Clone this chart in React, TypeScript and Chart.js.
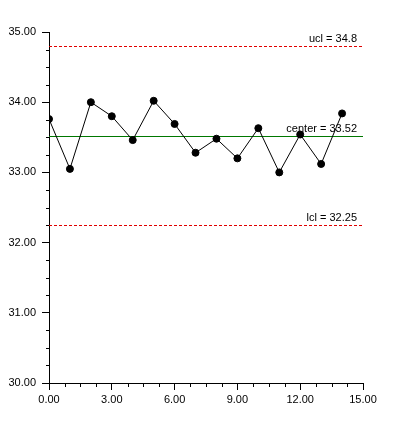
import React, { useEffect, useRef } from "react";
import { Chart, registerables } from "chart.js";

Chart.register(...registerables);

const sampleIndex = [0, 1, 2, 3, 4, 5, 6, 7, 8, 9, 10, 11, 12, 13, 14];
const sampleValues = [33.76, 33.05, 34.0, 33.8, 33.46, 34.02, 33.69, 33.28, 33.48, 33.2, 33.63, 33.0, 33.54, 33.12, 33.84];
const ucl = 34.8;
const center = 33.52;
const lcl = 32.25;
const limitLabels = ["ucl = 34.8", "center = 33.52", "lcl = 32.25"];
const xMin = 0, xMax = 15, xStep = 3, xMinorStep = 0.75;
const yMin = 30, yMax = 35, yStep = 1, yMinorStep = 0.25;

const FONT = "'Liberation Sans', Arial, sans-serif";

const spcPlugin = {
  id: "spc",
  beforeDatasetsDraw(chart: any) {
    const { ctx, chartArea, scales } = chart;
    const y = scales.y;
    ctx.save();
    ctx.lineWidth = 1;
    const drawLine = (v: number, color: string, dash: number[]) => {
      const py = Math.round(y.getPixelForValue(v)) + 0.5;
      ctx.strokeStyle = color;
      ctx.setLineDash(dash);
      ctx.beginPath();
      ctx.moveTo(chartArea.left, py);
      ctx.lineTo(chartArea.right, py);
      ctx.stroke();
    };
    drawLine(ucl, "#e00000", [3, 2]);
    drawLine(lcl, "#e00000", [3, 2]);
    drawLine(center, "#007800", []);
    ctx.restore();
  },
  afterDatasetsDraw(chart: any) {
    const { ctx, chartArea, scales } = chart;
    const y = scales.y;
    ctx.save();
    ctx.fillStyle = "#000";
    ctx.font = `11px ${FONT}`;
    ctx.textAlign = "right";
    ctx.textBaseline = "alphabetic";
    const vals = [ucl, center, lcl];
    vals.forEach((v, i) => {
      const py = Math.round(y.getPixelForValue(v));
      ctx.fillText(limitLabels[i], chartArea.right - 6, py - 4);
    });
    ctx.restore();
  },
  afterDraw(chart: any) {
    const { ctx, chartArea, scales } = chart;
    const x = scales.x;
    const y = scales.y;
    ctx.save();
    ctx.strokeStyle = "#000";
    ctx.lineWidth = 1;
    ctx.beginPath();
    for (let v = yMin; v <= yMax + 1e-9; v += yMinorStep) {
      if (Math.abs(v / yStep - Math.round(v / yStep)) < 1e-6) continue;
      const py = Math.round(y.getPixelForValue(v)) + 0.5;
      ctx.moveTo(chartArea.left - 3, py);
      ctx.lineTo(chartArea.left, py);
    }
    for (let v = xMin; v <= xMax + 1e-9; v += xMinorStep) {
      if (Math.abs(v / xStep - Math.round(v / xStep)) < 1e-6) continue;
      const px = Math.round(x.getPixelForValue(v)) + 0.5;
      ctx.moveTo(px, chartArea.bottom);
      ctx.lineTo(px, chartArea.bottom + 4);
    }
    ctx.stroke();
    ctx.restore();
  },
};

export default function App() {
  const ref = useRef<HTMLCanvasElement | null>(null);
  useEffect(() => {
    if (!ref.current) return;
    const chart = new Chart(ref.current, {
      type: "line",
      data: {
        datasets: [
          {
            data: sampleIndex.map((xv, i) => ({ x: xv, y: sampleValues[i] })),
            borderColor: "#000",
            borderWidth: 1,
            backgroundColor: "#000",
            pointBackgroundColor: "#000",
            pointBorderColor: "#000",
            pointRadius: 3.5,
            pointBorderWidth: 1,
            tension: 0,
            fill: false,
          },
        ],
      },
      options: {
        responsive: false,
        animation: false,
        devicePixelRatio: 1,
        layout: { padding: { top: 32, right: 30, left: 0, bottom: 0 } },
        plugins: { legend: { display: false }, tooltip: { enabled: false }, title: { display: false } },
        scales: {
          x: {
            type: "linear",
            min: xMin,
            max: xMax,
            afterFit: (s: any) => { s.height = 56; },
            ticks: {
              stepSize: xStep,
              autoSkip: false,
              maxRotation: 0,
              padding: 3,
              color: "#000",
              font: { family: FONT, size: 11 },
              callback: (v: any) => Number(v).toFixed(2),
            },
            grid: { display: true, drawOnChartArea: false, drawTicks: true, tickLength: 7, color: "#000" },
            border: { display: true, color: "#000", width: 1 },
          },
          y: {
            type: "linear",
            min: yMin,
            max: yMax,
            afterFit: (s: any) => { s.width = 49; },
            ticks: {
              stepSize: yStep,
              autoSkip: false,
              padding: 6,
              color: "#000",
              font: { family: FONT, size: 11 },
              callback: (v: any) => Number(v).toFixed(2),
            },
            grid: { display: true, drawOnChartArea: false, drawTicks: true, tickLength: 7, color: "#000" },
            border: { display: true, color: "#000", width: 1 },
          },
        },
      },
      plugins: [spcPlugin],
    });
    return () => chart.destroy();
  }, []);
  return (
    <div style={{ position: "absolute", left: 0, top: 0, width: 393, height: 439, background: "#fff" }}>
      <canvas ref={ref} width={393} height={439} style={{ width: 393, height: 439, display: "block" }} />
    </div>
  );
}
